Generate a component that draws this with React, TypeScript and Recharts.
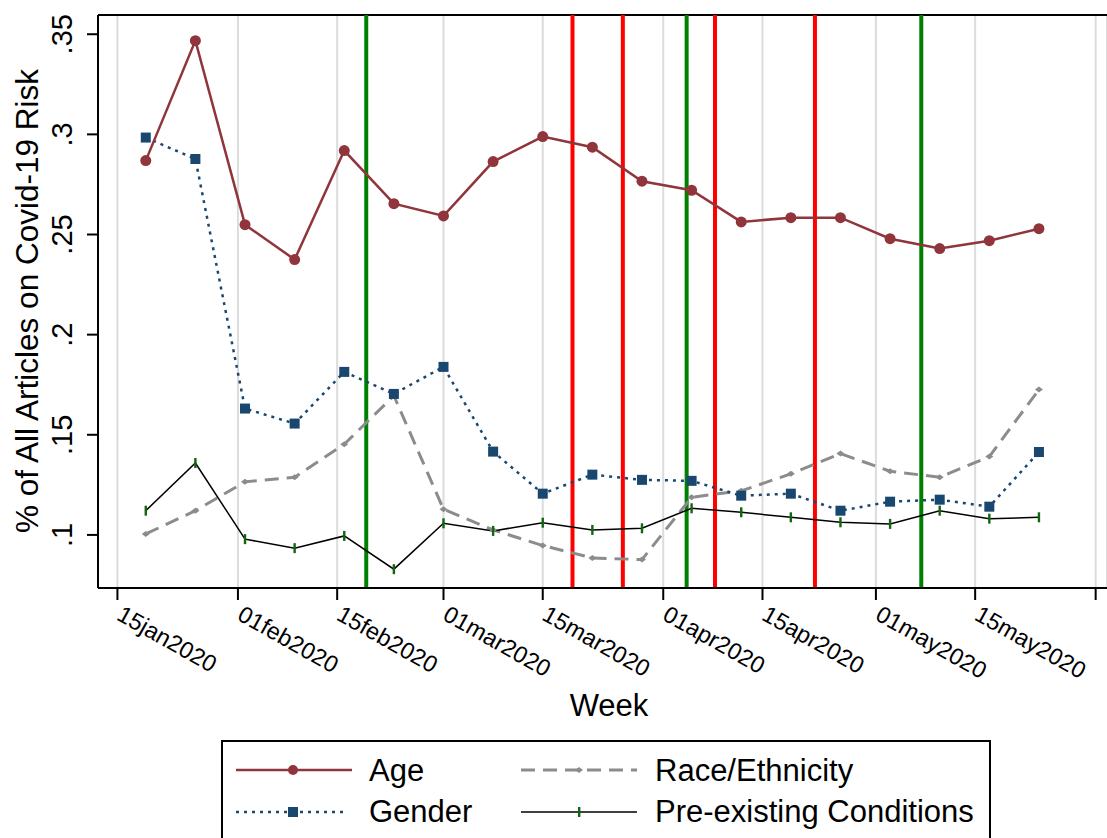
import React from 'react';
import { LineChart, Line, XAxis, YAxis, CartesianGrid, ReferenceLine } from 'recharts';

// days since 01jan2020 (week of observation)
const weeks = [18, 25, 32, 39, 46, 53, 60, 67, 74, 81, 88, 95, 102, 109, 116, 123, 130, 137, 144];
const age = [0.2869, 0.3468, 0.2549, 0.2375, 0.2919, 0.2654, 0.2593, 0.2864, 0.2989, 0.2936, 0.2766, 0.2721, 0.2563, 0.2584, 0.2584, 0.2479, 0.243, 0.2469, 0.2529];
const gender = [0.2984, 0.2877, 0.1631, 0.1556, 0.1814, 0.1704, 0.1839, 0.1416, 0.1206, 0.1301, 0.1275, 0.127, 0.1196, 0.1206, 0.1121, 0.1166, 0.1176, 0.1141, 0.1414];
const race = [0.1005, 0.1121, 0.1265, 0.1288, 0.1453, 0.1695, 0.1128, 0.1025, 0.0947, 0.0885, 0.0877, 0.1188, 0.122, 0.1305, 0.1406, 0.1318, 0.1288, 0.1391, 0.1726];
const preexisting = [0.1121, 0.1359, 0.0979, 0.0934, 0.0995, 0.0829, 0.1058, 0.102, 0.1061, 0.1025, 0.1033, 0.1133, 0.1113, 0.1088, 0.1063, 0.1055, 0.1121, 0.1081, 0.1088];

const xTicks = [14, 31, 45, 60, 74, 91, 105, 121, 135, 152];
const xLabels = ['15jan2020', '01feb2020', '15feb2020', '01mar2020', '15mar2020', '01apr2020', '15apr2020', '01may2020', '15may2020', ''];
const yTicks = [0.1, 0.15, 0.2, 0.25, 0.3, 0.35];
const yLabels = ['.1', '.15', '.2', '.25', '.3', '.35'];

// event markers (days since 01jan2020)
const greenEvents = [49.1, 94.3, 127.4];
const redEvents = [78.2, 85.3, 98.3, 112.4];

const rows = weeks.map((d, i) => ({ day: d, age: age[i], gender: gender[i], race: race[i], pre: preexisting[i] }));

const X_DOMAIN = [11.26, 153.6];
const Y_DOMAIN = [0.0735, 0.3596];

const FONT = '"Liberation Sans", Arial, sans-serif';
const AGE = '#90353b';
const NAVY = '#1a476f';
const GRAY = '#8c8c8c';
const TICKGREEN = '#116611';

const XTick = ({ x, payload }: any) => {
    const i = xTicks.indexOf(payload.value);
    return (
        <text transform={`translate(${x - 2},619) rotate(29.5)`} fontSize={23.5} fontFamily={FONT} fill="#000">
            {xLabels[i]}
        </text>
    );
};

const YTick = ({ y, payload }: any) => {
    const i = yTicks.findIndex((t) => Math.abs(t - payload.value) < 1e-9);
    return (
        <text transform={`translate(72,${y}) rotate(-90)`} textAnchor="middle" fontSize={29} fontFamily={FONT} fill="#000">
            {yLabels[i]}
        </text>
    );
};

const AgeDot = ({ cx, cy }: any) => <circle cx={cx} cy={cy} r={5.5} fill={AGE} />;
const GenderDot = ({ cx, cy }: any) => <rect x={cx - 5} y={cy - 5} width={10} height={10} fill={NAVY} />;
const RaceDot = ({ cx, cy }: any) => <path d={`M${cx - 4},${cy} L${cx},${cy - 3} L${cx + 4},${cy} L${cx},${cy + 3} Z`} fill={GRAY} />;
const PreDot = ({ cx, cy }: any) => <rect x={cx - 1.2} y={cy - 5} width={2.4} height={10} fill={TICKGREEN} />;

const Legend = () => (
    <svg width={1107} height={838} style={{ position: 'absolute', left: 0, top: 0, pointerEvents: 'none' }}>
        <rect x={222} y={741} width={768} height={130} fill="none" stroke="#000" strokeWidth={2} />
        <g fontFamily={FONT} fontSize={31} fill="#000">
            <line x1={236} x2={352} y1={770} y2={770} stroke={AGE} strokeWidth={2.5} />
            <circle cx={293} cy={770} r={5} fill={AGE} />
            <text x={369} y={781}>Age</text>

            <line x1={521} x2={637} y1={770} y2={770} stroke={GRAY} strokeWidth={3} strokeDasharray="14 8" />
            <path d="M575,770 L579,767 L583,770 L579,773 Z" fill={GRAY} />
            <text x={655} y={781}>Race/Ethnicity</text>

            <line x1={236} x2={348} y1={812} y2={812} stroke={NAVY} strokeWidth={2.5} strokeDasharray="3 5" />
            <rect x={288} y={807} width={10} height={10} fill={NAVY} />
            <text x={369} y={822}>Gender</text>

            <line x1={521} x2={637} y1={812} y2={812} stroke="#000" strokeWidth={1.5} />
            <rect x={578} y={807} width={2.4} height={10} fill={TICKGREEN} />
            <text x={655} y={822}>Pre-existing Conditions</text>
        </g>
    </svg>
);

const App = () => (
    <div style={{ position: 'absolute', left: 0, top: 0, width: 1107, height: 838, background: '#fff', overflow: 'hidden' }}>
        <LineChart width={1107} height={838} data={rows} margin={{ top: 15, right: 0, bottom: 0, left: 0 }}>
            <CartesianGrid horizontal={false} stroke="#dcdcdc" strokeWidth={2} />
            <XAxis
                dataKey="day"
                type="number"
                domain={X_DOMAIN}
                ticks={xTicks}
                interval={0}
                allowDataOverflow
                height={250}
                tickSize={12}
                tickMargin={0}
                tick={<XTick />}
                axisLine={{ stroke: '#000', strokeWidth: 2 }}
                tickLine={{ stroke: '#000', strokeWidth: 2 }}
                label={{
                    content: () => (
                        <text x={609} y={716} textAnchor="middle" fontSize={31} fontFamily={FONT} fill="#000">
                            Week
                        </text>
                    ),
                }}
            />
            <YAxis
                type="number"
                domain={Y_DOMAIN}
                ticks={yTicks}
                interval={0}
                allowDataOverflow
                width={98}
                tickSize={11}
                tick={<YTick />}
                axisLine={{ stroke: '#000', strokeWidth: 2 }}
                tickLine={{ stroke: '#000', strokeWidth: 2 }}
                label={{
                    content: () => (
                        <text transform="translate(38,301) rotate(-90)" textAnchor="middle" fontSize={31.5} fontFamily={FONT} fill="#000">
                            % of All Articles on Covid-19 Risk
                        </text>
                    ),
                }}
            />
            <ReferenceLine y={Y_DOMAIN[1]} stroke="#000" strokeWidth={2} />
            {greenEvents.map((d) => (
                <ReferenceLine key={`g${d}`} x={d} stroke="#008000" strokeWidth={4} />
            ))}
            {redEvents.map((d) => (
                <ReferenceLine key={`r${d}`} x={d} stroke="#ff0000" strokeWidth={4} />
            ))}
            <Line dataKey="race" stroke={GRAY} strokeWidth={3} strokeDasharray="14 8" dot={(p: any) => <RaceDot key={`rd${p.index}`} {...p} />} isAnimationActive={false} />
            <Line dataKey="pre" stroke="#000" strokeWidth={1.5} dot={(p: any) => <PreDot key={`pd${p.index}`} {...p} />} isAnimationActive={false} />
            <Line dataKey="gender" stroke={NAVY} strokeWidth={2.5} strokeDasharray="3 5" dot={(p: any) => <GenderDot key={`gd${p.index}`} {...p} />} isAnimationActive={false} />
            <Line dataKey="age" stroke={AGE} strokeWidth={2.5} dot={(p: any) => <AgeDot key={`ad${p.index}`} {...p} />} isAnimationActive={false} />
        </LineChart>
        <Legend />
    </div>
);

export default App;
